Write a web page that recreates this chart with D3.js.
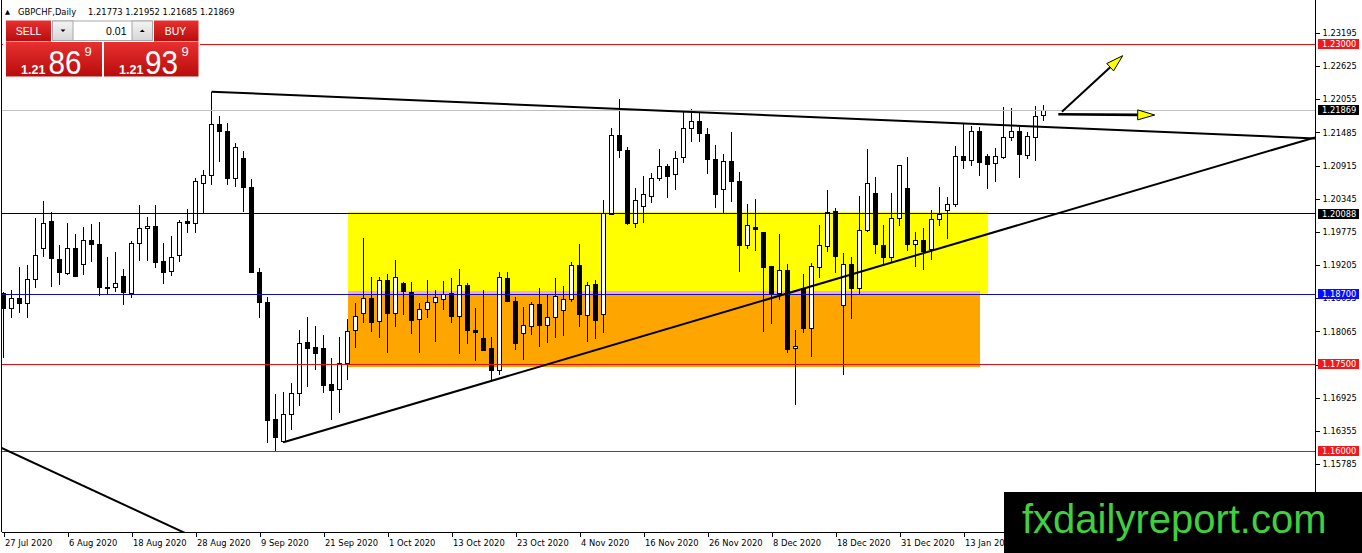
<!DOCTYPE html>
<html><head><meta charset="utf-8">
<script src="https://cdn.jsdelivr.net/npm/d3@7"></script>
<style>
html,body{margin:0;padding:0;background:#fff;overflow:hidden}
svg{display:block}
</style></head><body>
<svg id="c" width="1362" height="553"></svg>
<script>
// ---------- data ----------
const symbol = "GBPCHF,Daily";
const opens = [1.18720,1.18450,1.18634,1.18548,1.18961,1.19493,1.19951,1.19309,1.19063,1.19493,
1.19207,1.19636,1.19562,1.18828,1.18823,1.19017,1.18720,1.19579,1.19837,1.19871,
1.19275,1.19091,1.19378,1.19951,1.19923,1.20599,1.20753,1.21630,1.21510,1.20697,
1.21029,1.20542,1.19081,1.18565,1.16558,1.16168,1.16639,1.17000,1.17877,1.17784,
1.17774,1.17160,1.17069,1.17516,1.18088,1.18364,1.18634,1.18243,1.18948,1.18376,
1.18891,1.18737,1.18272,1.18444,1.18565,1.18616,1.18720,1.18329,1.18862,1.18088,
1.17946,1.17774,1.17384,1.18977,1.18587,1.18032,1.18157,1.18530,1.18174,1.18307,
1.18420,1.18621,1.19194,1.18346,1.18874,1.18358,1.20083,1.21441,1.21183,1.19923,
1.20220,1.20392,1.20697,1.20908,1.20766,1.21058,1.21556,1.21682,1.21458,1.21023,
1.20508,1.20994,1.20650,1.19533,1.19859,1.19761,1.19172,1.18720,1.19120,1.17774,
1.18806,1.18106,1.19160,1.19521,1.20123,1.18506,1.19207,1.18806,1.19791,1.20439,
1.19550,1.19331,1.20009,1.20525,1.19562,1.19624,1.19476,1.19992,1.20140,1.20250,
1.21080,1.20999,1.21510,1.21068,1.20955,1.21058,1.21402,1.21498,1.21085,1.21402,1.21773];
const highs = [1.18748,1.18777,1.19177,1.19207,1.20009,1.20307,1.20123,1.19550,1.19933,1.19739,
1.19854,1.19911,1.19951,1.19338,1.19424,1.19137,1.19624,1.20238,1.20026,1.20238,
1.19579,1.19705,1.19980,1.20164,1.20707,1.20839,1.22186,1.21768,1.21642,1.21298,
1.21171,1.20685,1.19149,1.18661,1.16988,1.17028,1.17172,1.18088,1.18307,1.18157,
1.18003,1.17602,1.17963,1.18272,1.18558,1.19665,1.18995,1.19005,1.19051,1.19292,
1.18919,1.18919,1.18548,1.18948,1.18777,1.18931,1.18977,1.19137,1.18902,1.18462,
1.18777,1.17963,1.19081,1.19081,1.18661,1.18479,1.18575,1.18806,1.18690,1.18988,
1.18850,1.19252,1.19562,1.18919,1.18948,1.20324,1.21556,1.22060,1.21240,1.20535,
1.20736,1.20783,1.21200,1.20937,1.21166,1.21854,1.21888,1.21814,1.21556,1.21269,
1.21109,1.21498,1.20810,1.20255,1.20336,1.19761,1.19189,1.19739,1.19218,1.18088,
1.19046,1.19235,1.19894,1.20496,1.20181,1.19407,1.19349,1.20392,1.21200,1.20724,
1.19894,1.20439,1.20925,1.21058,1.19768,1.19837,1.20152,1.20542,1.20380,1.21257,
1.21625,1.21601,1.21574,1.21109,1.21223,1.21928,1.21911,1.21584,1.21488,1.21940,1.21952];
const lows = [1.17607,1.18290,1.18376,1.18290,1.18806,1.19349,1.18823,1.18862,1.19034,1.19000,
1.19034,1.19263,1.18678,1.18702,1.18737,1.18518,1.18634,1.19280,1.19275,1.19160,
1.18879,1.19022,1.19252,1.19751,1.19761,1.20095,1.20581,1.20982,1.20581,1.20542,
1.20123,1.19063,1.18290,1.16151,1.15996,1.16140,1.16369,1.16782,1.17103,1.17401,
1.17000,1.16541,1.16667,1.17229,1.17774,1.18204,1.18059,1.17946,1.17698,1.18145,
1.18346,1.18020,1.17688,1.18300,1.17887,1.18432,1.18214,1.17671,1.17843,1.17555,
1.17727,1.17200,1.17315,1.18565,1.17744,1.17573,1.18003,1.17801,1.17870,1.17956,
1.17990,1.18565,1.18145,1.17887,1.17934,1.18032,1.20066,1.21041,1.19894,1.19847,
1.19933,1.20277,1.20650,1.20353,1.20496,1.20955,1.21326,1.21326,1.20771,1.20181,
1.20083,1.20294,1.19081,1.19476,1.19452,1.18059,1.18186,1.18604,1.17688,1.16799,
1.18032,1.17629,1.18977,1.19435,1.19063,1.17315,1.18272,1.18702,1.19768,1.19395,
1.19207,1.19235,1.19882,1.19447,1.19177,1.19120,1.19292,1.19882,1.19648,1.20208,
1.20857,1.20908,1.20741,1.20508,1.20638,1.21023,1.21343,1.20707,1.21029,1.20994,1.21685];
const closes = [1.18450,1.18634,1.18548,1.18961,1.19366,1.19923,1.19321,1.19081,1.19493,1.19005,
1.19636,1.19562,1.18823,1.18806,1.18891,1.18737,1.19579,1.19837,1.19871,1.19252,
1.19081,1.19338,1.19940,1.19923,1.20638,1.20753,1.21625,1.21498,1.20697,1.21230,
1.20542,1.19074,1.18558,1.16541,1.16237,1.16644,1.17000,1.17860,1.17774,1.17688,
1.17143,1.17045,1.17516,1.18059,1.18317,1.18634,1.18221,1.18948,1.18376,1.18995,
1.18748,1.18248,1.18444,1.18565,1.18651,1.18702,1.18317,1.18850,1.18076,1.18042,
1.17744,1.17389,1.18995,1.18575,1.17860,1.18174,1.18530,1.18162,1.18300,1.18661,
1.18616,1.19194,1.18358,1.18862,1.18248,1.20095,1.21429,1.21171,1.19923,1.20318,
1.20410,1.20697,1.20908,1.20724,1.21029,1.21556,1.21682,1.21470,1.21023,1.20410,
1.20994,1.20638,1.19538,1.19877,1.19813,1.19160,1.18702,1.19120,1.17762,1.17813,
1.18106,1.19177,1.19533,1.20105,1.19349,1.19207,1.18806,1.19808,1.20611,1.19562,
1.19331,1.20009,1.20925,1.19562,1.19624,1.19447,1.19992,1.20066,1.20255,1.21080,
1.20999,1.21510,1.20965,1.20942,1.21068,1.21395,1.21498,1.21114,1.21412,1.21768,1.21869];

const dateTickIdx = [0,8,16,24,32,40,48,56,64,72,80,88,96,104,112,120];
const dateTickText = ["27 Jul 2020","6 Aug 2020","18 Aug 2020","28 Aug 2020","9 Sep 2020","21 Sep 2020","1 Oct 2020","13 Oct 2020","23 Oct 2020","4 Nov 2020","16 Nov 2020","26 Nov 2020","8 Dec 2020","18 Dec 2020","31 Dec 2020","13 Jan 2021"];
const priceTicks = [1.23195,1.22625,1.22055,1.21485,1.20915,1.20345,1.19775,1.19205,1.18635,1.18065,1.17495,1.16925,1.16355,1.15785];

const levelPrices = [1.23000,1.21869,1.20088,1.18700,1.17500,1.16000];
const levelKinds  = ["res","bid","mid","blue","sup","sup"];

// zones: [fromBar, toBar, topPrice, bottomPrice]
const yellowZone = [43,123,1.20123,1.18702];
const orangeZone = [43,122,1.18759,1.17457];
// trendlines: two anchor points [bar, price]
const trendTop    = [[26,1.22186],[130,1.21580]];
const trendUp     = [[35,1.16158],[130,1.20021]];
const trendOld    = [[-0.2,1.16059],[22.44,1.14615]];
// arrows: [start, tip] as [bar, price]
const arrowUp     = [[132.3,1.21842],[139.9,1.22805]];
const arrowSide   = [[131.85,1.21797],[143.9,1.21785]];

const quote = {o:"1.21773", h:"1.21952", l:"1.21685", c:"1.21869"};
const sellBig = ["1.21","86","9"], buyBig = ["1.21","93","9"], lotText = "0.01";

// ---------- scales ----------
const W = 1362, H = 553;
const plotL = 2, plotR = 1315, plotB = 532;
const n = opens.length;
const x = d3.scaleLinear().domain([0, n-1]).range([3.5, 3.5 + 8*(n-1)]);
const y = d3.scaleLinear().domain([1.15785, 1.23195]).range([464, 33]);
const xMaxIdx = x.invert(plotR);

const svg = d3.select("#c");
const defs = svg.append("defs");
defs.append("clipPath").attr("id","plot").append("rect")
  .attr("x",plotL).attr("y",0).attr("width",plotR-plotL).attr("height",plotB);
const rg = defs.append("linearGradient").attr("id","red").attr("x1",0).attr("y1",0).attr("x2",0).attr("y2",1);
rg.append("stop").attr("offset","0%").attr("stop-color","#e83030");
rg.append("stop").attr("offset","100%").attr("stop-color","#b80c0c");
const gg = defs.append("linearGradient").attr("id","gray").attr("x1",0).attr("y1",0).attr("x2",0).attr("y2",1);
gg.append("stop").attr("offset","0%").attr("stop-color","#f4f4f4");
gg.append("stop").attr("offset","100%").attr("stop-color","#d6d6d6");

svg.append("rect").attr("width",W).attr("height",H).attr("fill","#fff");

const plot = svg.append("g").attr("clip-path","url(#plot)");

// zones
function zoneRect(z, color){
  plot.append("rect")
    .attr("x", x(z[0])).attr("width", x(z[1]) - x(z[0]))
    .attr("y", y(z[2])).attr("height", y(z[3]) - y(z[2]))
    .attr("fill", color).attr("shape-rendering","crispEdges");
}
zoneRect(yellowZone, "#ffff00");
zoneRect(orangeZone, "#ffa500");
// overlap band
const ov = [Math.max(yellowZone[0],orangeZone[0]), Math.min(yellowZone[1],orangeZone[1]),
            Math.min(yellowZone[2],orangeZone[2]), Math.max(yellowZone[3],orangeZone[3])];
zoneRect(ov, "#f2a6ee");

// candles
const idx = d3.range(n);
const cg = plot.append("g").attr("shape-rendering","crispEdges");
cg.selectAll("line").data(idx).join("line")
  .attr("x1", i => x(i)).attr("x2", i => x(i))
  .attr("y1", i => y(highs[i])).attr("y2", i => y(lows[i]))
  .attr("stroke","#000").attr("stroke-width",1);
cg.selectAll("rect").data(idx).join("rect")
  .attr("x", i => x(i) - 2).attr("width", 4)
  .attr("y", i => y(Math.max(opens[i], closes[i])))
  .attr("height", i => Math.max(0.6, Math.abs(y(opens[i]) - y(closes[i]))))
  .attr("fill", i => closes[i] >= opens[i] ? "#fff" : "#000")
  .attr("stroke","#000").attr("stroke-width",1);

// horizontal levels
const levelStroke = {res:"#e01010", sup:"#e01010", bid:"#c0c0c0", mid:"#000", blue:"#1010b0"};
plot.selectAll("line.lvl").data(levelPrices).join("line").attr("class","lvl")
  .attr("x1", plotL).attr("x2", plotR)
  .attr("y1", d => y(d)).attr("y2", d => y(d))
  .attr("stroke", (d,i) => levelStroke[levelKinds[i]]).attr("stroke-width",1)
  .attr("shape-rendering","crispEdges");

// trendlines extended as rays
function extend(pts, fromIdx, toIdx){
  const [a,b] = pts;
  const s = (b[1]-a[1])/(b[0]-a[0]);
  return [[fromIdx, a[1] + s*(fromIdx-a[0])], [toIdx, a[1] + s*(toIdx-a[0])]];
}
const lines = [extend(trendTop, trendTop[0][0], xMaxIdx),
               extend(trendUp, trendUp[0][0], xMaxIdx),
               extend(trendOld, -2, 40)];
const lineGen = d3.line().x(d => x(d[0])).y(d => y(d[1]));
plot.selectAll("path.tl").data(lines).join("path").attr("class","tl")
  .attr("d", lineGen).attr("fill","none").attr("stroke","#000").attr("stroke-width",2);

// arrows
function arrow(a, w){
  const x0 = x(a[0][0]), y0 = y(a[0][1]), x1 = x(a[1][0]), y1 = y(a[1][1]);
  const ang = Math.atan2(y1-y0, x1-x0), L = 17, hw = 5;
  const bx = x1 - L*Math.cos(ang), by = y1 - L*Math.sin(ang);
  const px = -Math.sin(ang)*hw, py = Math.cos(ang)*hw;
  plot.append("line").attr("x1",x0).attr("y1",y0).attr("x2",bx).attr("y2",by)
    .attr("stroke","#000").attr("stroke-width",w);
  plot.append("path")
    .attr("d", `M${x1},${y1}L${bx+px},${by+py}L${bx-px},${by-py}Z`)
    .attr("fill","#ffff00").attr("stroke","#000").attr("stroke-width",1);
}
arrow(arrowUp, 2);
arrow(arrowSide, 2.6);

// frame
const fr = svg.append("g").attr("shape-rendering","crispEdges").attr("stroke","#000");
fr.append("line").attr("x1",1.5).attr("x2",1.5).attr("y1",0).attr("y2",plotB);

// axes
const FONT = "DejaVu Sans, Verdana, sans-serif";
const yAxis = svg.append("g").attr("transform",`translate(${plotR+0.5},0)`)
  .call(d3.axisRight(y).tickValues(priceTicks).tickFormat(d3.format(".5f")).tickSize(4).tickPadding(3));
yAxis.select(".domain").attr("d",`M0,0V${plotB}`).attr("stroke","#000");
yAxis.selectAll(".tick line").attr("stroke","#000");
yAxis.selectAll("text").attr("font-family",FONT).attr("font-size","8.3px").attr("fill","#000");
yAxis.attr("shape-rendering","crispEdges");

const xAxis = svg.append("g").attr("transform",`translate(0,${plotB+0.5})`)
  .call(d3.axisBottom(x).tickValues(dateTickIdx).tickFormat((d,i) => dateTickText[i]).tickSize(4).tickPadding(4));
xAxis.select(".domain").attr("d",`M${plotL},0H${plotR}`).attr("stroke","#000");
xAxis.selectAll(".tick line").attr("stroke","#000");
xAxis.selectAll("text").attr("font-family",FONT).attr("font-size","8.4px")
  .attr("text-anchor","start").attr("x",1).attr("fill","#000");
xAxis.attr("shape-rendering","crispEdges");

// level labels on axis
const labelBg = {res:"#f01818", sup:"#f01818", bid:"#000", mid:"#000", blue:"#0a0aff"};
const lg = svg.append("g");
levelPrices.forEach((p,i) => {
  const yy = y(p);
  lg.append("rect").attr("x",1318).attr("y",Math.round(yy)-5).attr("width",41).attr("height",10)
    .attr("fill", labelBg[levelKinds[i]]).attr("shape-rendering","crispEdges");
  lg.append("text").attr("x",1322).attr("y",yy).attr("dy","0.36em")
    .attr("font-family",FONT).attr("font-size","8.3px").attr("fill","#fff")
    .text(d3.format(".5f")(p));
});

// header
svg.append("text").attr("x",5).attr("y",13.5).attr("font-family",FONT).attr("font-size","6.5px").text("\u25B2");
svg.append("text").attr("x",18).attr("y",14.5).attr("font-family",FONT).attr("font-size","8.4px")
  .text(symbol);
svg.append("text").attr("x",88).attr("y",14.5).attr("font-family",FONT).attr("font-size","8.4px")
  .text(`${quote.o} ${quote.h} ${quote.l} ${quote.c}`);

// trade panel
const pn = svg.append("g");
const SF = "Liberation Sans, Arial, sans-serif";
pn.append("rect").attr("x",3).attr("y",19).attr("width",197).attr("height",59).attr("fill","#fff");
pn.append("rect").attr("x",6).attr("y",20.5).attr("width",45).attr("height",21).attr("fill","url(#red)");
pn.append("rect").attr("x",154).attr("y",20.5).attr("width",44.5).attr("height",21).attr("fill","url(#red)");
pn.append("rect").attr("x",6).attr("y",42).attr("width",96).attr("height",34.5).attr("fill","url(#red)");
pn.append("rect").attr("x",104).attr("y",42).attr("width",94.5).attr("height",34.5).attr("fill","url(#red)");
pn.append("line").attr("x1",9).attr("x2",48).attr("y1",41.5).attr("y2",41.5).attr("stroke","#f3b0b0").attr("stroke-width",0.8);
pn.append("line").attr("x1",157).attr("x2",196).attr("y1",41.5).attr("y2",41.5).attr("stroke","#f3b0b0").attr("stroke-width",0.8);
// lot control
pn.append("rect").attr("x",52.5).attr("y",21).attr("width",100).attr("height",19.5).attr("fill","#fff").attr("stroke","#a8a8a8");
pn.append("rect").attr("x",52.5).attr("y",21).attr("width",20.5).attr("height",19.5).attr("fill","url(#gray)").attr("stroke","#a8a8a8");
pn.append("rect").attr("x",132).attr("y",21).attr("width",20.5).attr("height",19.5).attr("fill","url(#gray)").attr("stroke","#a8a8a8");
pn.append("path").attr("d","M60.5,29.5h5l-2.5,2.5z").attr("fill","#000");
pn.append("path").attr("d","M139.8,32h5l-2.5,-2.5z").attr("fill","#000");
pn.append("text").attr("x",126.5).attr("y",35).attr("text-anchor","end").attr("font-family",SF).attr("font-size","10.5px").text(lotText);
pn.append("text").attr("x",28.5).attr("y",35).attr("text-anchor","middle").attr("font-family",SF).attr("font-size","10.5px").attr("fill","#fff").text("SELL");
pn.append("text").attr("x",175.5).attr("y",35).attr("text-anchor","middle").attr("font-family",SF).attr("font-size","10.5px").attr("fill","#fff").text("BUY");
function bigPrice(parts, x0, x1, x2){
  pn.append("text").attr("x",x0).attr("y",74).attr("font-family",SF).attr("font-weight","bold")
    .attr("font-size","12.5px").attr("fill","#fff").text(parts[0]);
  pn.append("text").attr("x",x1).attr("y",74).attr("font-family",SF)
    .attr("font-size","33px").attr("fill","#fff")
    .attr("textLength",33).attr("lengthAdjust","spacingAndGlyphs").text(parts[1]);
  pn.append("text").attr("x",x2).attr("y",56).attr("font-family",SF)
    .attr("font-size","13px").attr("fill","#fff").text(parts[2]);
}
bigPrice(sellBig, 21, 48.5, 84.5);
bigPrice(buyBig, 119, 145, 181.5);

// watermark
svg.append("rect").attr("x",1004).attr("y",492).attr("width",W-1004).attr("height",H-492).attr("fill","#000");
svg.append("text").attr("x",1022).attr("y",533).attr("font-family",SF).attr("font-size","40px")
  .attr("fill","#3fcf3f").text("fxdailyreport.com");
</script>
</body></html>
